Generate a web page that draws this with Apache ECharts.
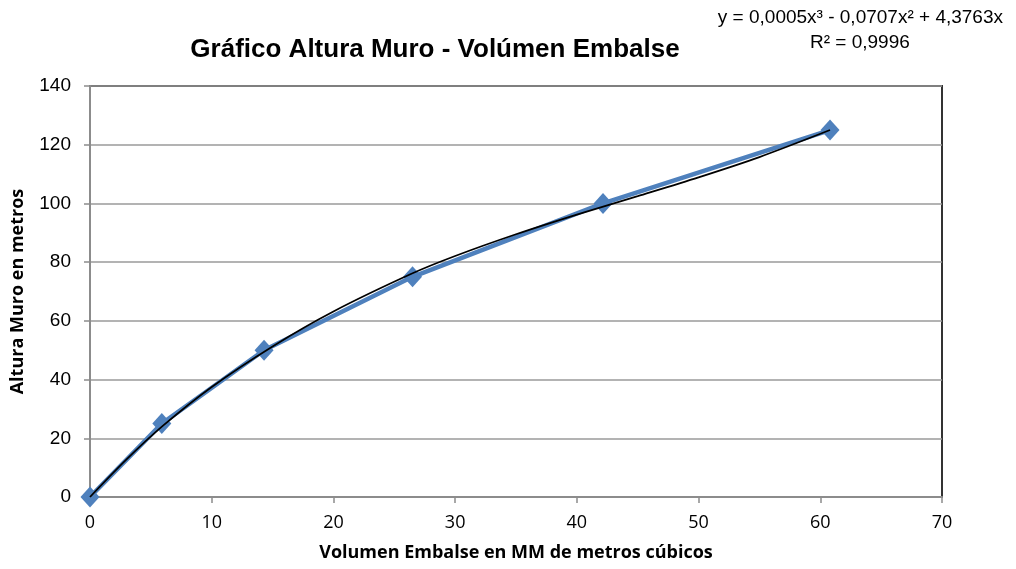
<!DOCTYPE html>
<html>
<head>
<meta charset="utf-8">
<script src="https://cdn.jsdelivr.net/npm/echarts@6/dist/echarts.min.js"></script>
<style>html,body{margin:0;padding:0;background:#fff}#c{width:1016px;height:569px}</style>
</head>
<body>
<div id="c"></div>
<script>
// Data series (volume in MM m3, wall height in m)
const volumen = [0, 5.9, 14.3, 26.5, 42.15, 60.8];
const altura = [0, 25, 50, 75, 100, 125];
// Polynomial trendline
const trendX = [0, 3, 6, 10, 15, 20, 26.5, 30, 35, 40, 45, 50, 55, 60.8];
const trendY = [0, 12.8, 24.3, 37.5, 51.3, 63.2, 76.2, 82.1, 89.5, 96.2, 102.5, 108.9, 115.8, 125];
const xTicks = [0, 10, 20, 30, 40, 50, 60, 70];
const yTicks = [0, 20, 40, 60, 80, 100, 120, 140];
const titleText = 'Gráfico Altura Muro - Volúmen Embalse';
const eqLine1 = 'y = 0,0005x³ - 0,0707x² + 4,3763x';
const eqLine2 = 'R² = 0,9996';
const xName = 'Volumen Embalse en MM de metros cúbicos';
const yName = 'Altura Muro en metros';

const chart = echarts.init(document.getElementById('c'), null, {renderer: 'canvas'});
chart.setOption({
  animation: false,
  backgroundColor: '#fff',
  title: [{
    text: titleText, left: 430, top: 32, textAlign: 'center',
    textStyle: {fontFamily: 'Liberation Sans', fontWeight: 'bold', fontSize: 26, color: '#000'}
  }],
  graphic: [
    {type: 'text', right: 13, top: 8, style: {text: eqLine1, font: '19px "Liberation Sans"', fill: '#000'}},
    {type: 'text', left: 810, top: 33, style: {text: eqLine2, font: '19px "Liberation Sans"', fill: '#000'}}
  ],
  grid: {left: 90, right: 74, top: 86, bottom: 72, show: true, borderColor: '#333', borderWidth: 2, backgroundColor: 'transparent'},
  xAxis: {
    type: 'value', min: 0, max: 70, interval: 10,
    name: xName, nameLocation: 'middle', nameGap: 47,
    nameTextStyle: {fontFamily: 'Open Sans', fontWeight: 'bold', fontSize: 18, color: '#000'},
    axisLine: {show: true, lineStyle: {color: '#8c8c8c', width: 2}},
    axisTick: {show: true, length: 6, lineStyle: {color: '#8c8c8c', width: 1.5}},
    axisLabel: {fontFamily: 'Open Sans', fontSize: 18, color: '#000', margin: 17,
      formatter: v => xTicks.includes(v) ? String(v) : ''},
    splitLine: {show: false}
  },
  yAxis: {
    type: 'value', min: 0, max: 140, interval: 20,
    name: yName, nameLocation: 'middle', nameGap: 63, nameRotate: 90,
    nameTextStyle: {fontFamily: 'Open Sans', fontWeight: 'bold', fontSize: 18, color: '#000'},
    axisLine: {show: true, lineStyle: {color: '#8c8c8c', width: 2}},
    axisTick: {show: true, length: 6, lineStyle: {color: '#8c8c8c', width: 1.5}},
    axisLabel: {fontFamily: 'Liberation Sans', fontSize: 19, color: '#000', margin: 19,
      formatter: v => yTicks.includes(v) ? String(v) : ''},
    splitLine: {show: true, lineStyle: {color: '#9a9a9a', width: 1.5}}
  },
  series: [
    {
      type: 'line', data: volumen.map((v, i) => [v, altura[i]]),
      symbol: 'diamond', symbolSize: [19, 21], showSymbol: true,
      lineStyle: {color: '#4F81BD', width: 4.5},
      itemStyle: {color: '#4F81BD'}, z: 2
    },
    {
      type: 'line', data: trendX.map((v, i) => [v, trendY[i]]),
      smooth: 0.3, showSymbol: false, symbol: 'none',
      lineStyle: {color: '#000', width: 1.8}, z: 3
    }
  ]
});
</script>
</body>
</html>
